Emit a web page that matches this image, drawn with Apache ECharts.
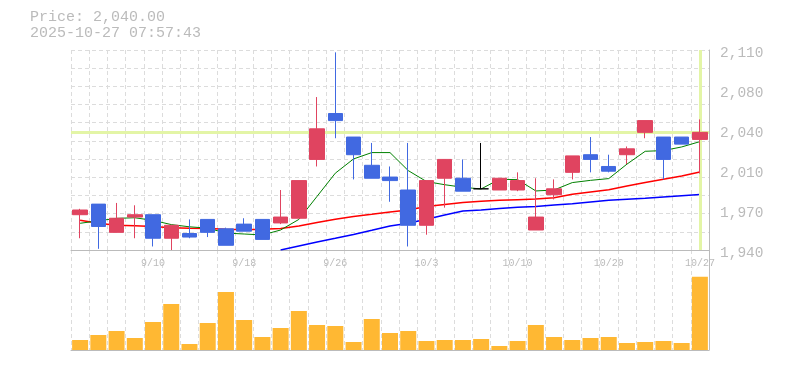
<!DOCTYPE html>
<html>
<head>
<meta charset="utf-8">
<script src="https://cdn.jsdelivr.net/npm/echarts@6/dist/echarts.min.js"></script>
<style>html,body{margin:0;padding:0;background:#fff;}#c{width:785px;height:370px;}</style>
</head>
<body>
<div id="c"></div>
<script>
const titleLines = ['Price: 2,040.00', '2025-10-27 07:57:43'];
const lastPrice = 2040;
const dates = ['9/4','9/5','9/8','9/9','9/10','9/11','9/12','9/16','9/17','9/18','9/19','9/22','9/24','9/25','9/26','9/29','9/30','10/1','10/2','10/3','10/6','10/7','10/8','10/9','10/10','10/14','10/15','10/16','10/17','10/20','10/21','10/22','10/23','10/24','10/27'];
const opens  = [1970,1979,1955,1968,1970,1950,1954,1966,1958,1962,1966,1963,1967,2017,2056,2036,2012,2002,1991,1961,2001,2001,1992,1991,1991,1957,1987,2006,2021,2011,2021,2040,2036,2036,2034];
const closes = [1974,1960,1967,1970,1950,1961,1951,1955,1944,1956,1949,1968,1999,2043,2050,2021,2001,1999,1961,1999,2017,1990,1992,2001,1999,1968,1992,2020,2017,2007,2026,2050,2017,2030,2040];
const lows   = [1950,1941,1955,1950,1943,1940,1950,1951,1944,1956,1949,1962,1967,2011,2035,2000,2001,1981,1943,1953,1976,1990,1992,1991,1990,1957,1983,2000,2006,2006,2013,2035,2000,2030,2005];
const highs  = [1975,1979,1980,1978,1970,1961,1966,1966,1959,1967,1966,1991,1999,2070,2108,2036,2031,2011,2031,1999,2017,2017,2031,2001,2006,2001,2000,2020,2036,2021,2028,2050,2036,2036,2051];
const maShort = [1962.7,1964.8,1966.9,1967.4,1965.2,1961.6,1959.7,1958.6,1954.4,1953.6,1952.8,1957,1966,1985.6,2005.3,2017.4,2022.8,2022.8,2007.5,1998.2,1995.5,1993.3,1991.9,2000.1,1999.8,1990.2,1991,1997.3,1999.2,2000.7,2013,2023.9,2024.5,2027.6,2032.1];
const maMid = [1965.2,1962.7,1961.0,1960.7,1959.9,1959.0,1958.4,1958.2,1957.6,1957.3,1957.6,1958.2,1960.4,1963.3,1966.1,1968.4,1970.3,1972.3,1974.0,1976.9,1978.6,1980.3,1981.4,1982.2,1982.8,1983.4,1984.5,1987.3,1989.3,1991.3,1994.4,1997.3,2000.1,2002.9,2006.3];
const maLong = [null,null,null,null,null,null,null,null,null,null,null,1940,1943.4,1946.8,1949.9,1953.1,1956.7,1960.4,1962.7,1966.1,1969.8,1973.2,1974.0,1975.2,1976.3,1976.9,1978.3,1979.4,1980.8,1982.2,1983.1,1983.9,1985.1,1986.2,1987.1];
const volumes = [1000,1500,1900,1200,2800,4600,600,2700,5800,3000,1300,2200,3900,2500,2400,800,3100,1700,1900,900,1000,1000,1100,400,900,2500,1300,1000,1200,1300,700,800,900,700,7330];
const yTickValues = [1940,1974,2008,2042,2076,2110];
const yTickLabels = ['1,940','1,970','2,010','2,040','2,080','2,110'];
const labelIndexes = [4,9,14,19,24,29,34];

const candles = dates.map((d,i)=>[opens[i],closes[i],lows[i],highs[i]]);
const FONT = 'Liberation Mono';
const GRAY = '#bbb';
const DASH = {color:'#dcdcdc', width:1, type:[4,3]};

const chart = echarts.init(document.getElementById('c'), null, {renderer:'canvas'});
chart.setOption({
  animation:false,
  backgroundColor:'#fff',
  title:{
    text: titleLines.join('\n'), left:30, top:9, padding:0,
    textStyle:{fontFamily:FONT, fontSize:15, lineHeight:16, color:GRAY, fontWeight:'normal'}
  },
  grid:[
    {left:71, width:638, top:50, height:200},
    {left:71, width:638, top:250, height:100}
  ],
  xAxis:[
    {type:'category', gridIndex:0, data:dates, boundaryGap:true,
     axisLine:{show:true, lineStyle:{color:GRAY, width:1}},
     axisTick:{show:false},
     axisLabel:{interval:(i)=>labelIndexes.indexOf(i)>=0, fontFamily:FONT, fontSize:10, color:GRAY, margin:8},
     splitLine:{show:true, interval:0, lineStyle:DASH}},
    {type:'category', gridIndex:1, data:dates, boundaryGap:true,
     axisLine:{show:true, lineStyle:{color:GRAY, width:1}},
     axisTick:{show:false}, axisLabel:{show:false},
     splitLine:{show:true, interval:0, lineStyle:DASH}}
  ],
  yAxis:[
    {type:'value', gridIndex:0, position:'right', min:1940, max:2110, scale:true,
     axisLine:{show:true, lineStyle:{color:GRAY, width:1}},
     axisTick:{show:false},
     splitLine:{show:false},
     axisLabel:{customValues:yTickValues, formatter:(v)=>yTickLabels[yTickValues.indexOf(v)] || '',
       fontFamily:FONT, fontSize:14.5, color:GRAY, margin:11, verticalAlign:'top', lineHeight:6}},
    {type:'value', gridIndex:0, position:'left', min:0, max:11, interval:1,
     axisLine:{show:false}, axisTick:{show:false}, axisLabel:{show:false},
     splitLine:{show:true, lineStyle:DASH}},
    {type:'value', gridIndex:1, position:'right', min:0, max:10000,
     axisLine:{show:true, lineStyle:{color:GRAY, width:1}},
     axisTick:{show:false}, axisLabel:{show:false}, splitLine:{show:false}}
  ],
  series:[
    {type:'line', xAxisIndex:0, yAxisIndex:0, data:[], z:1, silent:true,
     markLine:{silent:true, symbol:['none','none'], label:{show:false},
       lineStyle:{color:'#e3f5a6', width:3, type:'solid'},
       data:[{yAxis:lastPrice},{xAxis:dates[dates.length-1]}]}},
    {type:'line', xAxisIndex:0, yAxisIndex:0, data:maLong, z:3, symbol:'none', smooth:false,
     lineStyle:{color:'#0000ff', width:1.5}, silent:true},
    {type:'line', xAxisIndex:0, yAxisIndex:0, data:maMid, z:3, symbol:'none', smooth:false,
     lineStyle:{color:'#ff0000', width:1.5}, silent:true},
    {type:'line', xAxisIndex:0, yAxisIndex:0, data:maShort, z:3, symbol:'none', smooth:false,
     lineStyle:{color:'#008000', width:1}, silent:true},
    {type:'candlestick', xAxisIndex:0, yAxisIndex:0, data:candles, z:5, barWidth:15,
     itemStyle:{color:'#e04460', color0:'#4169e1', borderColor:'#e04460', borderColor0:'#4169e1', borderColorDoji:'#000', borderWidth:1}},
    {type:'bar', xAxisIndex:1, yAxisIndex:2, data:volumes, barWidth:16,
     itemStyle:{color:'#ffb833'}}
  ]
});
</script>
</body>
</html>
